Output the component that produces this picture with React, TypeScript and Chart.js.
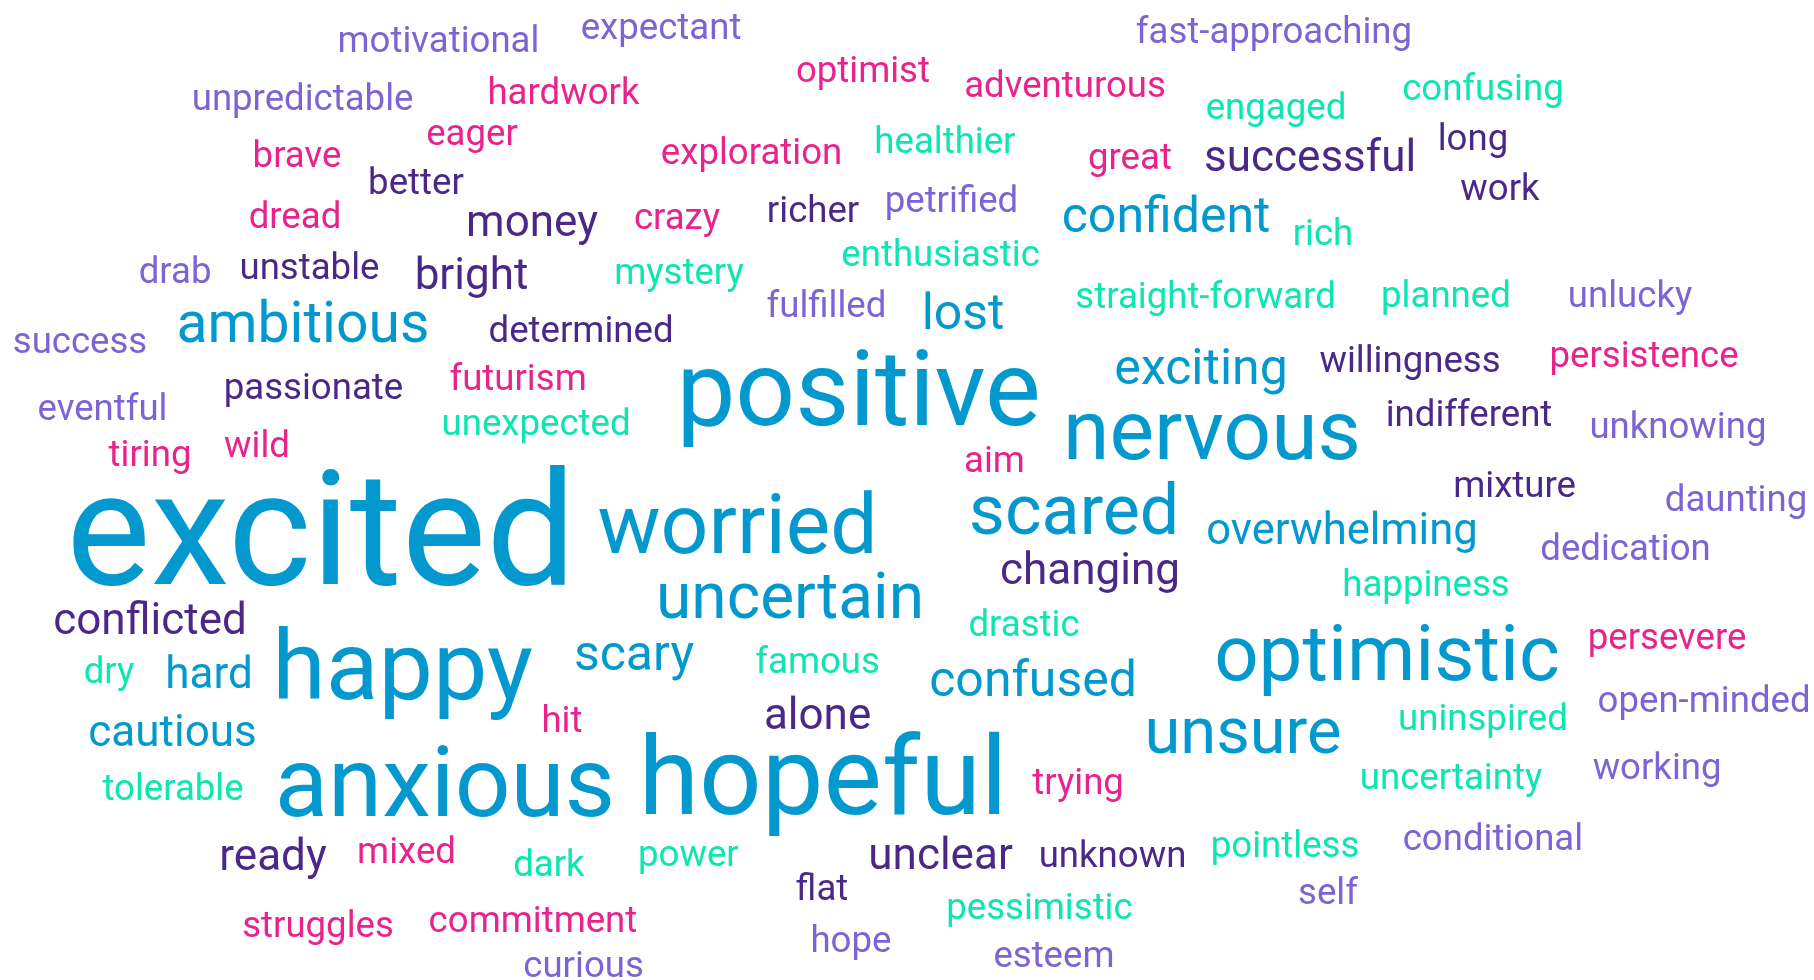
import { useEffect, useRef } from "react";
import { Chart, registerables } from "chart.js";

Chart.register(...registerables);

// Words of the cloud
const words = [
  "motivational", "expectant", "fast-approaching", "optimist", "adventurous",
  "unpredictable", "hardwork", "engaged", "confusing", "eager",
  "exploration", "healthier", "great", "successful", "long",
  "brave", "better", "dread", "money", "crazy",
  "richer", "petrified", "confident", "work", "rich",
  "drab", "unstable", "bright", "mystery", "enthusiastic",
  "fulfilled", "lost", "straight-forward", "planned", "unlucky",
  "success", "ambitious", "determined", "positive", "exciting",
  "willingness", "persistence", "passionate", "futurism", "eventful",
  "unexpected", "nervous", "indifferent", "unknowing", "tiring",
  "wild", "aim", "excited", "worried", "scared",
  "mixture", "daunting", "overwhelming", "dedication", "changing",
  "uncertain", "happiness", "conflicted", "drastic", "happy",
  "scary", "famous", "optimistic", "persevere", "dry",
  "hard", "confused", "open-minded", "cautious", "hit",
  "alone", "unsure", "uninspired", "anxious", "hopeful",
  "trying", "uncertainty", "working", "tolerable", "ready",
  "mixed", "dark", "power", "unclear", "unknown",
  "pointless", "conditional", "flat", "pessimistic", "self",
  "struggles", "commitment", "hope", "esteem", "curious",
];

// Layout coordinates of each word (0-100 on both axes)
const xValues = [
  24.17, 36.44, 70.23, 47.57, 58.71,
  16.68, 31.06, 70.34, 81.75, 26.02,
  41.43, 52.09, 62.29, 72.22, 81.2,
  16.37, 22.93, 16.26, 29.33, 37.32,
  44.82, 52.45, 64.28, 82.69, 72.93,
  9.65, 17.06, 25.99, 37.43, 51.85,
  45.56, 53.09, 66.46, 79.71, 89.86,
  4.41, 16.7, 32.03, 47.33, 66.21,
  77.73, 90.63, 17.28, 28.56, 5.65,
  29.55, 66.81, 80.98, 92.5, 8.27,
  14.17, 54.82, 17.7, 40.66, 59.21,
  83.49, 95.7, 73.98, 89.61, 60.09,
  43.55, 78.61, 8.27, 56.45, 22.19,
  34.95, 45.07, 76.46, 91.9, 6.01,
  11.52, 56.95, 93.94, 9.51, 30.98,
  45.07, 68.52, 81.75, 24.53, 45.37,
  59.43, 79.99, 91.35, 9.54, 15.05,
  22.41, 30.26, 37.95, 51.85, 61.33,
  70.84, 82.3, 45.31, 57.3, 73.21,
  17.53, 29.38, 46.91, 58.1, 32.17,
];

const yValues = [
  5.3, 3.98, 4.38, 8.36, 9.89,
  11.22, 10.61, 12.14, 10.2, 14.79,
  16.73, 15.61, 17.24, 17.44, 15.3,
  17.04, 19.79, 23.26, 24.08, 23.36,
  22.65, 21.63, 23.67, 20.4, 25.0,
  28.87, 28.47, 29.49, 28.98, 27.14,
  32.34, 33.57, 31.42, 31.32, 31.32,
  36.02, 34.89, 34.89, 43.36, 39.18,
  37.96, 37.44, 40.71, 39.79, 42.85,
  44.38, 46.83, 43.47, 44.69, 47.55,
  46.63, 48.16, 59.59, 56.42, 54.49,
  50.71, 52.14, 55.51, 57.14, 59.59,
  63.06, 60.81, 64.69, 64.89, 71.32,
  68.36, 68.67, 69.38, 66.22, 69.69,
  70.2, 71.02, 72.65, 76.12, 74.69,
  74.38, 76.83, 74.49, 83.26, 83.06,
  81.02, 80.51, 79.49, 81.63, 88.77,
  88.06, 89.38, 88.36, 88.67, 88.47,
  87.44, 86.73, 91.83, 93.77, 92.24,
  95.61, 95.1, 97.14, 98.67, 99.69,
];

// Word weights (frequency-driven size)
const weights = [
  36.6, 36.6, 36.6, 36.6, 36.6,
  36.6, 36.6, 36.6, 36.6, 36.6,
  36.6, 36.6, 36.6, 44, 36.6,
  36.6, 36.6, 36.6, 44, 36.6,
  36.6, 36.6, 50, 36.6, 36.6,
  36.6, 36.6, 44, 36.6, 36.6,
  36.6, 50, 36.6, 36.6, 36.6,
  36.6, 57, 36.6, 105, 50,
  36.6, 36.6, 36.6, 36.6, 36.6,
  36.6, 84, 36.6, 36.6, 36.6,
  36.6, 36.6, 159, 84, 70,
  36.6, 36.6, 43.6, 36.6, 44,
  64, 36.6, 44, 36.6, 97,
  50, 36.6, 78, 36.6, 36.6,
  44, 50, 36.6, 44, 36.6,
  44, 65, 36.6, 98, 110,
  36.6, 36.6, 36.6, 36.6, 44,
  36.6, 36.6, 36.6, 44, 36.6,
  36.6, 36.6, 36.6, 36.6, 36.6,
  36.6, 36.6, 36.6, 36.6, 36.6,
];

// Color group of each word: 0 blue, 1 teal, 2 pink, 3 lavender, 4 dark purple
const groups = [
  3, 3, 3, 2, 2,
  3, 2, 1, 1, 2,
  2, 1, 2, 4, 4,
  2, 4, 2, 4, 2,
  4, 3, 0, 4, 1,
  3, 4, 4, 1, 1,
  3, 0, 1, 1, 3,
  3, 0, 4, 0, 0,
  4, 2, 4, 2, 3,
  1, 0, 4, 3, 2,
  2, 2, 0, 0, 0,
  4, 3, 0, 3, 4,
  0, 1, 4, 1, 0,
  0, 1, 0, 2, 1,
  0, 0, 3, 0, 2,
  4, 0, 1, 0, 0,
  2, 1, 3, 1, 4,
  2, 1, 1, 4, 4,
  1, 3, 4, 1, 3,
  2, 2, 3, 3, 3,
];

const palette = ["#0399cf", "#0ce6b1", "#e9228c", "#7e63d4", "#4a2888"];

const REF_WIDTH = 1814;

const wordPlugin = {
  id: "wordText",
  afterDatasetsDraw(chart: any) {
    const meta = chart.getDatasetMeta(0);
    const ctx = chart.ctx;
    const scale = chart.width / REF_WIDTH;
    ctx.save();
    ctx.textAlign = "center";
    ctx.textBaseline = "alphabetic";
    meta.data.forEach((pt: any, i: number) => {
      ctx.font = `${weights[i] * scale}px Roboto`;
      ctx.fillStyle = palette[groups[i]];
      ctx.fillText(words[i], pt.x, pt.y);
    });
    ctx.restore();
  },
};

export default function App() {
  const ref = useRef<HTMLCanvasElement | null>(null);

  useEffect(() => {
    document.body.style.margin = "0";
    document.body.style.background = "#ffffff";
    if (!ref.current) return;
    const chart = new Chart(ref.current, {
      type: "scatter",
      data: {
        datasets: [
          {
            data: words.map((_, i) => ({ x: xValues[i], y: yValues[i] })),
            pointRadius: 0,
            pointHoverRadius: 0,
          },
        ],
      },
      options: {
        animation: false,
        responsive: true,
        maintainAspectRatio: false,
        layout: { padding: 0 },
        events: [],
        scales: {
          x: { type: "linear", min: 0, max: 100, display: false },
          y: { type: "linear", min: 0, max: 100, reverse: true, display: false },
        },
        plugins: {
          legend: { display: false },
          tooltip: { enabled: false },
        },
      },
      plugins: [wordPlugin],
    });
    if ((document as any).fonts && (document as any).fonts.load) {
      (document as any).fonts.load("37px Roboto").then(() => chart.draw()).catch(() => {});
    }
    return () => chart.destroy();
  }, []);

  return (
    <div style={{ position: "relative", width: "1814px", height: "980px", background: "#ffffff" }}>
      <canvas ref={ref} />
    </div>
  );
}
